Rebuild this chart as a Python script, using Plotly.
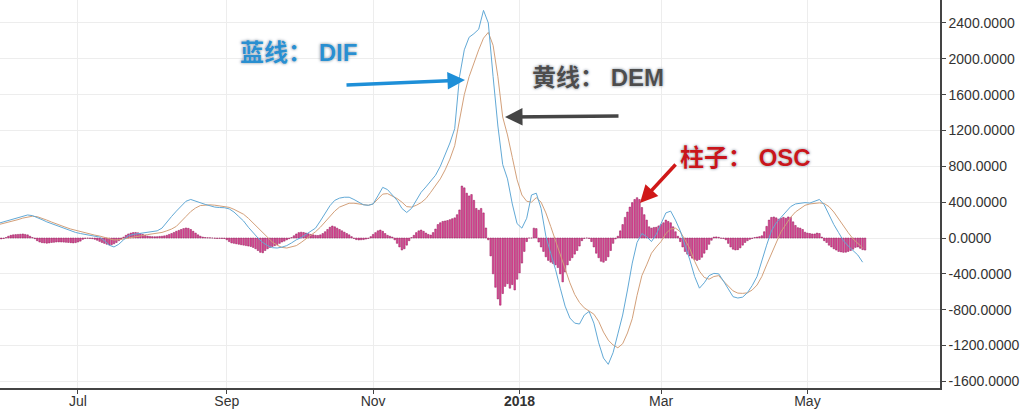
import pandas as pd
import plotly.graph_objects as go

START = "2017-05-29"

# OSC histogram (daily)
OSC = [
    -8, -10, -6, 5, 20, 30, 35, 38, 40, 42,
    45, 40, 35, 20, 5, -8, -30, -45, -52, -55,
    -58, -55, -50, -48, -45, -44, -45, -46, -48, -50,
    -52, -55, -52, -45, -35, -15, -5, -3, -5, -8,
    -15, -25, -38, -50, -60, -70, -78, -75, -65, -50,
    -30, -10, 10, 30, 45, 55, 60, 62, 58, 50,
    40, 30, 22, 18, 15, 14, 15, 18, 20, 24,
    30, 40, 50, 62, 75, 85, 95, 105, 112, 108,
    95, 75, 55, 35, 20, 10, 5, 3, 2, 0,
    -3, -5, -4, -5, -6, -20, -40, -55, -60, -65,
    -70, -75, -80, -85, -90, -95, -105, -120, -140, -160,
    -165, -140, -120, -105, -95, -85, -75, -60, -45, -35,
    -20, -8, 5, 25, 45, 60, 65, 62, 55, 48,
    40, 35, 30, 28, 35, 50, 70, 95, 120, 134,
    125, 110, 95, 80, 65, 50, 35, 15, -5, -18,
    -22, -20, -18, -12, -5, 15, 40, 60, 80, 89,
    75, 50, 30, 20, 10, -20, -60, -100, -134, -120,
    -80, -30, 5, 30, 60, 80, 89, 75, 55, 40,
    33, 60, 100, 150, 170, 185, 190, 195, 205, 215,
    225, 260, 313, 580, 560, 500, 470, 485, 420, 330,
    310, 330, 280, 112, -20, -200, -400, -550, -680, -750,
    -620, -540, -510, -560, -520, -580, -460, -390, -280, -150,
    -40, 0, 0, 110, 105, -45, -100, -150, -210, -250,
    -270, -285, -300, -330, -400, -490, -380, -300, -250, -220,
    -180, -140, -90, -30, -5, 0, -5, -40, -100, -170,
    -220, -260, -270, -250, -210, -140, -60, -10, 20, 80,
    150, 230, 290, 345, 395, 430, 450, 430, 340, 260,
    200, 125, 110, 118, 120, 135, 150, 170, 200, 185,
    170, 125, 70, 20, -40, -100, -150, -180, -200, -225,
    -240, -250, -240, -215, -170, -130, -70, -25, 10, 12,
    8, -3, -5, -20, -60, -100, -125, -134, -130, -110,
    -80, -50, -30, -15, -5, 5, 10, 15, 25, 70,
    130, 200, 230, 235, 225, 210, 220, 230, 220, 235,
    230, 180, 140, 115, 110, 95, 65, 55, 50, 45,
    45, 55, 50, 10, -30, -50, -80, -100, -120, -135,
    -150, -155, -160, -158, -150, -140, -125, -105, -100, -115, -130, -135,
]

# DIF line (every 2 days)
DIF = [
    165, 180, 195, 210, 228, 245, 257, 250, 230, 205,
    180, 160, 135, 118, 100, 80, 62, 50, 40, 30,
    18, 10, -30, -80, -100, -70, -20, 25, 40, 48,
    55, 62, 70, 80, 110, 180, 240, 300, 350, 410,
    430, 410, 390, 375, 360, 345, 340, 338, 325, 290,
    240, 190, 120, 56, 0, -50, -85, -108, -112, -102,
    -85, -55, -20, 5, 40, 75, 110, 190, 270, 360,
    420, 445, 455, 455, 430, 400, 370, 365, 380, 470,
    565, 540, 480, 420, 330, 285, 330, 420, 510, 570,
    630, 700, 800, 920, 1060, 1220, 1800, 2100, 2240, 2280,
    2330, 2540, 2400, 1800, 1250, 820, 660, 380, 160, 110,
    220, 480, 500, 330, 20, -170, -350, -560, -760, -893,
    -950, -960, -860, -820, -950, -1170, -1340, -1410, -1280, -1070,
    -860, -580, -280, -50, 50, 15, -40, 40, 160, 280,
    300, 200, 80, -80, -245, -430, -560, -500, -420, -395,
    -400, -480, -570, -655, -670, -660, -610, -530, -430, -250,
    -80, 80, 170, 230, 290, 350, 380, 390, 395, 390,
    410, 430, 370, 250, 150, 60, -30, -90, -135, -190, -270,
]

# DEM line (every 2 days)
DEM = [
    150, 162, 175, 190, 205, 222, 235, 243, 238, 222,
    200, 178, 155, 135, 118, 100, 85, 72, 58, 45,
    32, 22, 5, -12, -22, -20, -12, -2, 8, 18,
    28, 38, 45, 52, 62, 80, 100, 130, 180, 240,
    295, 335, 362, 370, 370, 366, 360, 352, 342, 320,
    295, 265, 220, 165, 110, 55, 5, -45, -80, -105,
    -112, -100, -85, -50, -10, 25, 70, 120, 180, 240,
    300, 345, 370, 388, 388, 378, 368, 365, 380, 430,
    490, 495, 470, 440, 400, 350, 345, 365, 395, 440,
    510, 580, 660, 760, 880, 1030, 1300, 1600, 1800, 1960,
    2100, 2230, 2295, 2150, 1800, 1350, 1150, 900, 650, 480,
    410, 400, 450, 400, 280, 130, -30, -200, -357, -500,
    -630, -720, -780, -815, -850, -930, -1050, -1140, -1194, -1225,
    -1180, -1060, -900, -640, -420, -300, -170, -100, -40, 50,
    100, 110, 70, -20, -120, -260, -370, -440, -460, -430,
    -420, -480, -540, -590, -615, -618, -612, -580, -525, -430,
    -300, -170, -50, 70, 150, 230, 290, 330, 365, 380,
    390, 392, 385, 350, 290, 210, 140, 60, -10, -60, -110,
]

Y_TICKS = [-1600, -1200, -800, -400, 0, 400, 800, 1200, 1600, 2000, 2400]
Y_TICK_LABELS = [f"{v:.4f}" for v in Y_TICKS]
X_TICK_DATES = ["2017-07-01", "2017-09-01", "2017-11-01", "2018-01-01", "2018-03-01", "2018-05-01"]
X_TICK_LABELS = ["Jul", "Sep", "Nov", "<b>2018</b>", "Mar", "May"]

bar_dates = pd.date_range(START, periods=len(OSC), freq="D")
line_dates = pd.date_range(START, periods=len(DIF), freq="2D")

fig = go.Figure()
fig.add_bar(x=bar_dates, y=OSC, name="OSC",
            marker=dict(color="#e2479b", line=dict(color="#8e1a55", width=0.5)))
fig.add_scatter(x=line_dates, y=DEM, mode="lines", name="DEM",
                line=dict(color="#d3a07a", width=1))
fig.add_scatter(x=line_dates, y=DIF, mode="lines", name="DIF",
                line=dict(color="#62a9d6", width=1))

W_PLOT, H_PLOT = 940.0, 388.0


def px(xp, yp):
    return xp / W_PLOT, 1 - yp / H_PLOT


# text labels
labels = [
    ("蓝线： DIF", 298, 53, "#2a8fd0"),
    ("黄线： DEM", 598, 78, "#4d4d4d"),
    ("柱子： OSC", 745, 157, "#c8161c"),
]
for txt, xp, yp, col in labels:
    x, y = px(xp, yp)
    fig.add_annotation(xref="paper", yref="paper", x=x, y=y, text=txt, showarrow=False,
                       xanchor="center", yanchor="middle",
                       font=dict(family="Liberation Sans, Noto Sans CJK SC", size=24,
                                 color=col, weight="bold",
                                 shadow="0px 0px 1px #ffffff, 0px 0px 3px #6f7f8f"))

# arrows (head position, tail offset in px)
arrows = [
    (465, 80, -120, 5, "#1e8fd8"),
    (505, 117, 115, -1, "#454545"),
    (640, 203, 37, -40, "#d01818"),
]
for xp, yp, ax, ay, col in arrows:
    x, y = px(xp, yp)
    fig.add_annotation(xref="paper", yref="paper", x=x, y=y, ax=ax, ay=ay, text="",
                       showarrow=True, arrowhead=2, arrowsize=1, arrowwidth=3.5,
                       arrowcolor=col, standoff=0)

fig.update_layout(
    width=1024, height=418,
    margin=dict(l=0, r=84, t=0, b=30),
    paper_bgcolor="white", plot_bgcolor="white",
    showlegend=False, bargap=0.35, hovermode=False,
    font=dict(family="Liberation Sans, Arial, sans-serif", size=14, color="#333"),
    xaxis=dict(range=["2017-05-29 12:00", "2018-06-25 06:00"],
               tickvals=X_TICK_DATES, ticktext=X_TICK_LABELS,
               showgrid=True, gridcolor="#ededed", gridwidth=1,
               ticks="outside", ticklen=4, tickcolor="#444",
               ticklabelstandoff=-5,
               showline=True, linecolor="#444", linewidth=1.5, zeroline=False),
    yaxis=dict(side="right", range=[-1674, 2656],
               tickvals=Y_TICKS, ticktext=Y_TICK_LABELS,
               showgrid=True, gridcolor="#ededed", gridwidth=1,
               ticks="outside", ticklen=4, tickcolor="#444",
               showline=True, linecolor="#444", linewidth=1.5, zeroline=False),
)

fig.write_html("out.html", config={"displayModeBar": False},
               post_script="document.body.style.margin='0px';document.body.style.overflow='hidden';")
